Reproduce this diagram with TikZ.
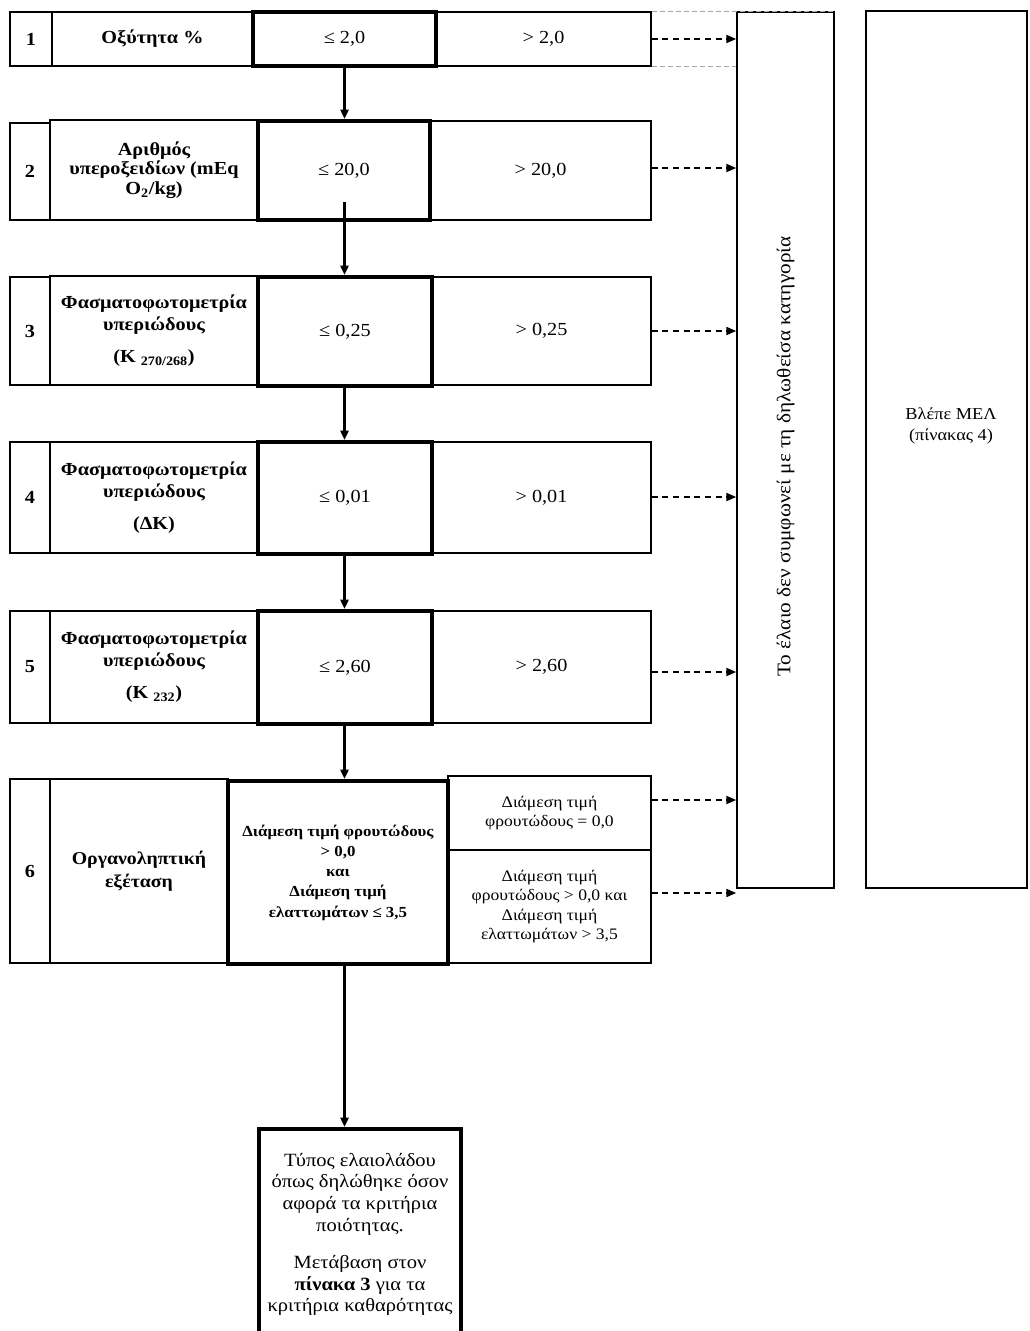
\documentclass[tikz,border=0pt]{standalone}
\usepackage{fontspec}
\setmainfont{Liberation Serif}[FakeStretch=1.1]
\usetikzlibrary{arrows.meta}
\newcommand\fmain{\fontsize{13.8}{15.5}\selectfont}
\newcommand\flab{\fontsize{13.8}{16.2}\selectfont\bfseries}
\newcommand\fsmall{\fontsize{12}{14.5}\selectfont}
% \cellat{style}{x1}{y1}{x2}{y2}{name}{text}
\newcommand\cellat[7]{\node[#1, minimum width={(#4-#2)*0.75pt}, minimum height={(#5-#3)*0.75pt}] (#6) at ({(#2+#4)/2},{(#3+#5)/2}) {#7};}
\begin{document}
\begin{tikzpicture}[x=0.75pt,y=-0.75pt,
  cell/.style={draw, line width=1.1pt, inner sep=0pt, align=center, font=\fmain},
  lab/.style={cell, font=\flab},
  thickcell/.style={cell, line width=3pt},
  vline/.style={line width=2.2pt, -{Triangle[length=7pt,width=6pt]}},
  dline/.style={line width=1.5pt, dash pattern=on 4.5pt off 3.5pt, -{Triangle[length=7.5pt,width=6pt]}},
  greydash/.style={draw=gray!70, line width=0.8pt, dash pattern=on 4pt off 2pt}]
\useasboundingbox (0,0) rectangle (1029,1331);

% row 1
\cellat{lab}{10}{12}{52}{66}{n1}{1}
\cellat{lab}{52}{12}{253}{66}{l1}{Οξύτητα \%}
\cellat{cell}{436}{12}{651}{66}{r1}{> 2,0}
\cellat{thickcell}{253}{12}{436}{66}{t1}{≤ 2,0}

% row 2
\cellat{lab}{10}{123}{50}{220}{n2}{2}
\cellat{lab, font=\fontsize{13.8}{14.8}\selectfont\bfseries}{50}{120}{258}{220}{l2}{Αριθμός\\υπεροξειδίων (mEq\\O\textsubscript{2}/kg)}
\cellat{cell}{430}{121}{651}{220}{r2}{> 20,0}
\cellat{thickcell}{258}{121}{430}{220}{t2}{≤ 20,0}

% row 3
\cellat{lab}{10}{277}{50}{385}{n3}{3}
\cellat{lab}{50}{276}{258}{385}{l3}{Φασματοφωτομετρία\\υπεριώδους\\[8pt](K \textsubscript{270/268})}
\cellat{cell}{432}{277}{651}{385}{r3}{> 0,25}
\cellat{thickcell}{258}{277}{432}{386}{t3}{≤ 0,25}

% row 4
\cellat{lab}{10}{442}{50}{553}{n4}{4}
\cellat{lab}{50}{442}{258}{553}{l4}{Φασματοφωτομετρία\\υπεριώδους\\[8pt](ΔK)}
\cellat{cell}{432}{442}{651}{553}{r4}{> 0,01}
\cellat{thickcell}{258}{442}{432}{554}{t4}{≤ 0,01}

% row 5
\cellat{lab}{10}{611}{50}{723}{n5}{5}
\cellat{lab}{50}{611}{258}{723}{l5}{Φασματοφωτομετρία\\υπεριώδους\\[8pt](K \textsubscript{232})}
\cellat{cell}{432}{611}{651}{723}{r5}{> 2,60}
\cellat{thickcell}{258}{611}{432}{724}{t5}{≤ 2,60}

% row 6
\cellat{lab}{10}{779}{50}{963}{n6}{6}
\cellat{lab, font=\fontsize{13.5}{17}\selectfont\bfseries}{50}{779}{228}{963}{l6}{Οργανοληπτική\\εξέταση}
\cellat{cell, font=\fsmall}{448}{776}{651}{850}{r6a}{Διάμεση τιμή\\φρουτώδους = 0,0}
\cellat{cell, font=\fsmall}{448}{850}{651}{963}{r6b}{Διάμεση τιμή\\φρουτώδους > 0,0 και\\Διάμεση τιμή\\ελαττωμάτων > 3,5}
\cellat{thickcell, font=\fontsize{11.5}{15.2}\selectfont\bfseries}{228}{781}{448}{964}{t6}{Διάμεση τιμή φρουτώδους\\> 0,0\\και\\Διάμεση τιμή\\ελαττωμάτων ≤ 3,5}

% final box
\cellat{thickcell, font=\fontsize{14}{16.2}\selectfont}{259}{1129}{461}{1340}{fin}{Τύπος ελαιολάδου\\όπως δηλώθηκε όσον\\αφορά τα κριτήρια\\ποιότητας.\\[12pt]Μετάβαση στον\\\textbf{πίνακα 3} για τα\\κριτήρια καθαρότητας}

% right boxes
\cellat{cell}{737}{12}{834}{888}{tall}{}
\node[rotate=90, font=\fontsize{14.5}{16}\selectfont] (talltxt) at ([yshift=-5pt]tall.center) {Το έλαιο δεν συμφωνεί με τη δηλωθείσα κατηγορία};
\cellat{cell, line width=1.8pt}{866}{11}{1027}{888}{melbox}{}
\node[align=center, font=\fontsize{12.5}{16}\selectfont] (mel) at (951,426) {Βλέπε ΜΕΛ\\(πίνακας 4)};

% grey dashed guide lines
\draw[greydash] (r1.north east) -- (r1.north east -| tall.east);
\draw[greydash] (r1.south east) -- (r1.south east -| tall.west);

% vertical flow
\draw[vline] (t1.south) -- (t1.south |- t2.north);
\draw[vline] ([yshift=15pt]t1.south |- t2.south) -- (t1.south |- t3.north);
\draw[vline] (t1.south |- t3.south) -- (t1.south |- t4.north);
\draw[vline] (t1.south |- t4.south) -- (t1.south |- t5.north);
\draw[vline] (t1.south |- t5.south) -- (t1.south |- t6.north);
\draw[vline] (t1.south |- t6.south) -- (t1.south |- fin.north);

% dashed arrows to the rejection box
\draw[dline] (r1.east) -- (r1.east -| tall.west);
\draw[dline] ([yshift=1.875pt]r2.east) -- ([yshift=1.875pt]r2.east -| tall.west);
\draw[dline] (r3.east) -- (r3.east -| tall.west);
\draw[dline] ([yshift=0.375pt]r4.east) -- ([yshift=0.375pt]r4.east -| tall.west);
\draw[dline] ([yshift=-3.75pt]r5.east) -- ([yshift=-3.75pt]r5.east -| tall.west);
\draw[dline] ([yshift=9.75pt]r6a.east) -- ([yshift=9.75pt]r6a.east -| tall.west);
\draw[dline] ([yshift=10.125pt]r6b.east) -- ([yshift=10.125pt]r6b.east -| tall.west);
\end{tikzpicture}
\end{document}
